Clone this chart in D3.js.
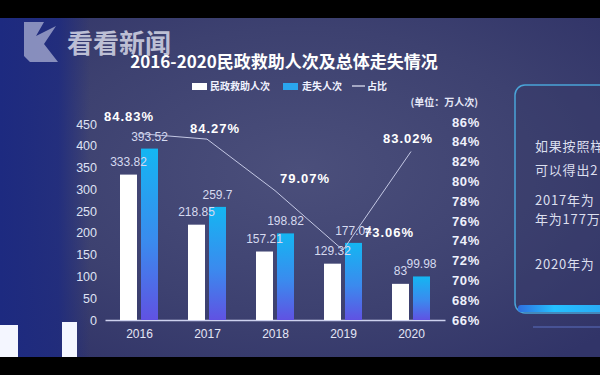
<!DOCTYPE html>
<html>
<head>
<meta charset="utf-8">
<script src="https://cdn.jsdelivr.net/npm/d3@7"></script>
<style>
  html, body { margin: 0; padding: 0; background: #000; }
  svg { display: block; }
  text { font-family: "Liberation Sans", Arial, "Noto Sans CJK SC", sans-serif; }
  .cjk { font-family: "Noto Sans CJK SC", "Liberation Sans", sans-serif; }
</style>
</head>
<body>
<div id="chart"></div>
<script>
// chart data
var years = ['2016', '2017', '2018', '2019', '2020'];
var rescued = [333.82, 218.85, 157.21, 129.32, 83];
var missing = [393.52, 259.7, 198.82, 177.04, 99.98];
var ratio = [84.83, 84.27, 79.07, 73.06, 83.02];
var leftTicks = [0, 50, 100, 150, 200, 250, 300, 350, 400, 450];
var rightTicks = [66, 68, 70, 72, 74, 76, 78, 80, 82, 84, 86];
var sideNotes = ['如果按照样', '可以得出2', '2017年为', '年为177万', '2020年为'];

var width = 600, height = 375;
var Plot = { left: 105, right: 445, top: 124, bottom: 320 };
// where each percent label sits relative to its point
var RatioLabel = { dx: [-10, 8, 30, 46, -3], dy: [-13, -6, -8, -13, -9] };

var svg = d3.select('#chart').append('svg')
  .attr('width', width)
  .attr('height', height);

var defs = svg.append('defs');
var bg = defs.append('radialGradient').attr('id', 'bg')
  .attr('cx', '0.5').attr('cy', '0.45').attr('r', '0.7');
bg.append('stop').attr('offset', '0%').attr('stop-color', '#4b4f7b');
bg.append('stop').attr('offset', '60%').attr('stop-color', '#3d4170');
bg.append('stop').attr('offset', '100%').attr('stop-color', '#313468');

var side = defs.append('linearGradient').attr('id', 'side')
  .attr('x1', 0).attr('x2', 1).attr('y1', 0).attr('y2', 0);
side.append('stop').attr('offset', '0%').attr('stop-color', '#1d2a80').attr('stop-opacity', 1);
side.append('stop').attr('offset', '65%').attr('stop-color', '#1d2a80').attr('stop-opacity', 0.8);
side.append('stop').attr('offset', '100%').attr('stop-color', '#1d2a80').attr('stop-opacity', 0);

var blue = defs.append('linearGradient').attr('id', 'blueBar')
  .attr('x1', 0).attr('x2', 0).attr('y1', 0).attr('y2', 1);
blue.append('stop').attr('offset', '0%').attr('stop-color', '#14b6f2');
blue.append('stop').attr('offset', '55%').attr('stop-color', '#3b8aee');
blue.append('stop').attr('offset', '100%').attr('stop-color', '#6052e2');

var glow = defs.append('linearGradient').attr('id', 'glow')
  .attr('x1', 0).attr('x2', 1).attr('y1', 0).attr('y2', 0);
glow.append('stop').attr('offset', '0%').attr('stop-color', '#2f6fe0');
glow.append('stop').attr('offset', '40%').attr('stop-color', '#25c0ff');
glow.append('stop').attr('offset', '100%').attr('stop-color', '#2aa8f5');

// screen background
svg.append('rect').attr('width', width).attr('height', height).attr('fill', '#000');
svg.append('rect').attr('y', 18).attr('width', width).attr('height', 339).attr('fill', 'url(#bg)');
svg.append('rect').attr('y', 18).attr('width', 90).attr('height', 339).attr('fill', 'url(#side)');

// lights at bottom left
svg.append('rect').attr('x', 0).attr('y', 325).attr('width', 18).attr('height', 32).attr('fill', '#f4f6ff');
svg.append('rect').attr('x', 62).attr('y', 322).attr('width', 15).attr('height', 35).attr('fill', '#f4f6ff');

// watermark
svg.append('path')
  .attr('d', 'M24,22 L44,22 L36,36 L56,26 L44,44 L58,62 L30,62 L24,56 Z')
  .attr('fill', '#9aa0c8').attr('opacity', 0.85);
svg.append('text').attr('class', 'cjk')
  .attr('x', 67).attr('y', 53)
  .attr('font-size', 26).attr('font-weight', 700)
  .attr('fill', '#d4d6e6').attr('opacity', 0.85)
  .text('看看新闻');

// title
svg.append('text').attr('class', 'cjk')
  .attr('x', 284).attr('y', 68)
  .attr('text-anchor', 'middle')
  .attr('font-size', 17).attr('font-weight', 700)
  .attr('fill', '#ffffff')
  .text('2016-2020民政救助人次及总体走失情况');

// legend
var legend = svg.append('g').attr('transform', 'translate(192, 90)');
legend.append('rect').attr('x', 0).attr('y', -7).attr('width', 15).attr('height', 7).attr('fill', '#ffffff');
legend.append('text').attr('class', 'cjk').attr('x', 18).attr('y', 0)
  .attr('font-size', 10).attr('font-weight', 700).attr('fill', '#f0f2ff').text('民政救助人次');
legend.append('rect').attr('x', 91).attr('y', -7).attr('width', 15).attr('height', 7).attr('fill', '#2aa6ee');
legend.append('text').attr('class', 'cjk').attr('x', 110).attr('y', 0)
  .attr('font-size', 10).attr('font-weight', 700).attr('fill', '#f0f2ff').text('走失人次');
legend.append('line').attr('x1', 160).attr('x2', 173).attr('y1', -4).attr('y2', -4)
  .attr('stroke', '#e8eaf8').attr('stroke-width', 1.2);
legend.append('text').attr('class', 'cjk').attr('x', 175).attr('y', 0)
  .attr('font-size', 10).attr('font-weight', 700).attr('fill', '#f0f2ff').text('占比');

svg.append('text').attr('class', 'cjk')
  .attr('x', 478).attr('y', 106).attr('text-anchor', 'end')
  .attr('font-size', 10).attr('font-weight', 700).attr('fill', '#e4e6f6')
  .text('(单位：万人次)');

// scales
var x = d3.scalePoint().domain(years).range([Plot.left, Plot.right]).padding(0.5);
var yL = d3.scaleLinear().domain([0, 450]).range([Plot.bottom, Plot.top]);
var yR = d3.scaleLinear().domain([66, 86]).range([Plot.bottom, 122]);
var barW = 17, barGap = 2;

// axes
var leftAxis = svg.append('g')
  .attr('transform', `translate(${Plot.left - 8}, 0)`)
  .call(d3.axisLeft(yL).tickValues(leftTicks).tickSize(0).tickPadding(0));
leftAxis.select('.domain').remove();
leftAxis.selectAll('text')
  .attr('font-size', 12.5).attr('fill', '#dfe2f4')
  .attr('font-family', '"Liberation Sans", Arial, sans-serif');

var rightAxis = svg.append('g')
  .attr('transform', `translate(452, 0)`)
  .call(d3.axisRight(yR).tickValues(rightTicks).tickSize(0).tickPadding(0).tickFormat(d => d + '%'));
rightAxis.select('.domain').remove();
rightAxis.selectAll('text')
  .attr('font-size', 13).attr('font-weight', 700).attr('fill', '#eef0fb')
  .attr('letter-spacing', 0.6)
  .attr('font-family', '"Liberation Sans", Arial, sans-serif');

var bottomAxis = svg.append('g')
  .attr('transform', `translate(0, ${Plot.bottom})`)
  .call(d3.axisBottom(x).tickSize(0).tickPadding(9));
bottomAxis.select('.domain')
  .attr('stroke', '#cdd1ee').attr('stroke-width', 1.5);
bottomAxis.selectAll('text')
  .attr('font-size', 12).attr('fill', '#e4e6f6')
  .attr('font-family', '"Liberation Sans", Arial, sans-serif');

// bars
var bars = svg.append('g');
bars.selectAll('.rescued')
  .data(rescued)
  .enter()
  .append('rect')
  .attr('class', 'rescued')
  .attr('x', (d, i) => x(years[i]) - barW - barGap)
  .attr('y', d => yL(d))
  .attr('width', barW)
  .attr('height', d => Plot.bottom - yL(d))
  .attr('fill', '#ffffff');
bars.selectAll('.missing')
  .data(missing)
  .enter()
  .append('rect')
  .attr('class', 'missing')
  .attr('x', (d, i) => x(years[i]) + barGap)
  .attr('y', d => yL(d))
  .attr('width', barW)
  .attr('height', d => Plot.bottom - yL(d))
  .attr('fill', 'url(#blueBar)');

// bar values
bars.selectAll('.rescuedLabel')
  .data(rescued)
  .enter()
  .append('text')
  .attr('x', (d, i) => x(years[i]) - barGap - barW / 2)
  .attr('y', d => yL(d) - 9)
  .attr('text-anchor', 'middle')
  .attr('font-size', 12).attr('fill', '#d6daf0')
  .text(d => d);
bars.selectAll('.missingLabel')
  .data(missing)
  .enter()
  .append('text')
  .attr('x', (d, i) => x(years[i]) + barGap + barW / 2)
  .attr('y', d => yL(d) - 8)
  .attr('text-anchor', 'middle')
  .attr('font-size', 12).attr('fill', '#d6daf0')
  .text(d => d);

// ratio line
var line = d3.line()
  .x((d, i) => x(years[i]))
  .y(d => yR(d));
svg.append('path')
  .datum(ratio)
  .attr('d', line)
  .attr('fill', 'none')
  .attr('stroke', '#c4c8e4')
  .attr('stroke-width', 1);
svg.append('g').selectAll('text')
  .data(ratio)
  .enter()
  .append('text')
  .attr('x', (d, i) => x(years[i]) + RatioLabel.dx[i])
  .attr('y', (d, i) => yR(d) + RatioLabel.dy[i])
  .attr('text-anchor', 'middle')
  .attr('font-size', 13).attr('font-weight', 700)
  .attr('letter-spacing', 1)
  .attr('fill', '#ffffff')
  .text(d => d3.format('.2f')(d) + '%');

// side panel
svg.append('rect')
  .attr('x', 515).attr('y', 85).attr('width', 110).attr('height', 228).attr('rx', 10)
  .attr('fill', '#363a68').attr('fill-opacity', 0.35)
  .attr('stroke', '#4aa4d8').attr('stroke-width', 1.5);
svg.append('rect')
  .attr('x', 518).attr('y', 305).attr('width', 90).attr('height', 7).attr('rx', 3)
  .attr('fill', 'url(#glow)');
svg.append('line')
  .attr('x1', 533).attr('x2', 600).attr('y1', 327).attr('y2', 327)
  .attr('stroke', '#5a6fc0').attr('stroke-width', 1.2);

var noteY = [151, 175, 205, 224, 269];
svg.append('g').selectAll('text')
  .data(sideNotes)
  .enter()
  .append('text')
  .attr('class', 'cjk')
  .attr('x', 535)
  .attr('y', (d, i) => noteY[i])
  .attr('font-size', 13)
  .attr('letter-spacing', 0.8)
  .attr('fill', '#dcdfee')
  .text(d => d);
</script>
</body>
</html>
